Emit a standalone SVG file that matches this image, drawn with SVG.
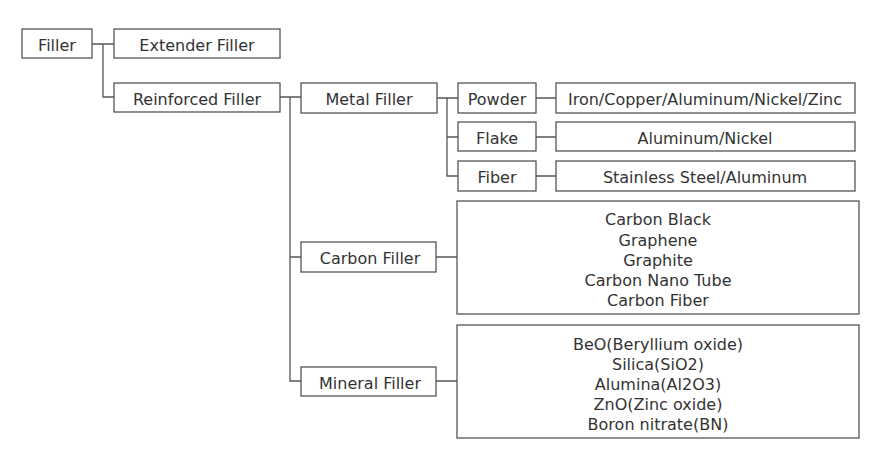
<svg xmlns="http://www.w3.org/2000/svg" width="875" height="455" viewBox="0 0 875 455">
<style>
.box{fill:#fff;stroke:#555;stroke-width:1.3}
.t{font-family:"DejaVu Sans","Noto Sans",sans-serif;font-size:16px;fill:#333;text-anchor:middle;dominant-baseline:central}
.c{fill:none;stroke:#555;stroke-width:1.3}
</style>
<rect width="875" height="455" fill="#fff"/>
<g id="connectors">
<path class="c" d="M92 44H114M103 44V97H114"/>
<path class="c" d="M280 97H301M290 97V381H301M290 257H301"/>
<path class="c" d="M437 98H458M447 98V176H458M447 137H458"/>
<path class="c" d="M536 98H556M536 137H556M536 176H556"/>
<path class="c" d="M436 257H457M436 381H457"/>
</g>
<g id="filler"><rect class="box" x="22" y="29" width="70" height="29"/><text class="t" x="57" y="45.5">Filler</text></g>
<g id="extender"><rect class="box" x="114" y="29" width="166" height="29"/><text class="t" x="197" y="45.5">Extender Filler</text></g>
<g id="reinforced"><rect class="box" x="114" y="83" width="166" height="29"/><text class="t" x="197" y="99.5">Reinforced Filler</text></g>
<g id="metal"><rect class="box" x="301" y="83" width="136" height="30"/><text class="t" x="369" y="99.5">Metal Filler</text></g>
<g id="powder"><rect class="box" x="458" y="83" width="78" height="30"/><text class="t" x="497" y="99.5">Powder</text></g>
<g id="flake"><rect class="box" x="458" y="122" width="78" height="29"/><text class="t" x="497" y="138.5">Flake</text></g>
<g id="fiber"><rect class="box" x="458" y="161" width="78" height="30"/><text class="t" x="497" y="177.5">Fiber</text></g>
<g id="powder-detail"><rect class="box" x="556" y="83" width="299" height="30"/><text class="t" x="705" y="99.5">Iron/Copper/Aluminum/Nickel/Zinc</text></g>
<g id="flake-detail"><rect class="box" x="556" y="122" width="299" height="29"/><text class="t" x="705" y="138.5">Aluminum/Nickel</text></g>
<g id="fiber-detail"><rect class="box" x="556" y="161" width="299" height="30"/><text class="t" x="705" y="177.5">Stainless Steel/Aluminum</text></g>
<g id="carbon"><rect class="box" x="301" y="242" width="135" height="30"/><text class="t" x="370" y="258.5">Carbon Filler</text></g>
<g id="mineral"><rect class="box" x="301" y="367" width="135" height="29"/><text class="t" x="370" y="383.5">Mineral Filler</text></g>
<g id="carbon-detail"><rect class="box" x="457" y="201" width="402" height="113"/>
<text class="t" x="658" y="219.5">Carbon Black</text>
<text class="t" x="658" y="240">Graphene</text>
<text class="t" x="658" y="260.5">Graphite</text>
<text class="t" x="658" y="280.5">Carbon Nano Tube</text>
<text class="t" x="658" y="300.5">Carbon Fiber</text></g>
<g id="mineral-detail"><rect class="box" x="457" y="325" width="402" height="113"/>
<text class="t" x="658" y="344.5">BeO(Beryllium oxide)</text>
<text class="t" x="658" y="364.5">Silica(SiO2)</text>
<text class="t" x="658" y="384.5">Alumina(Al2O3)</text>
<text class="t" x="658" y="404.5">ZnO(Zinc oxide)</text>
<text class="t" x="658" y="424.5">Boron nitrate(BN)</text></g>
</svg>
